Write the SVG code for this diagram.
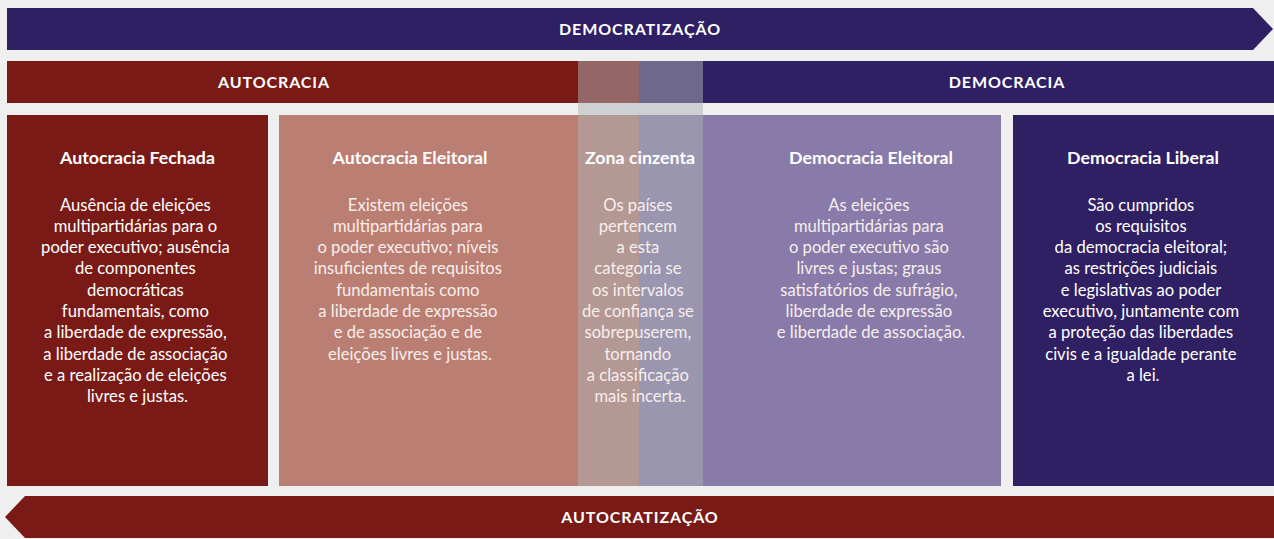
<svg xmlns="http://www.w3.org/2000/svg" width="1274" height="539" viewBox="0 0 1274 539">
<style>
.bg{fill:#efefef}
.red{fill:#7a1a16}
.pur{fill:#2f1f63}
.box2{fill:#bb7e72}
.box3{fill:#887ba9}
.hdr{font-family:Lato,"Liberation Sans",sans-serif;font-weight:700;font-size:16px;letter-spacing:0.9px;fill:#ffffff;text-anchor:middle}
.ttl{font-family:Lato,"Liberation Sans",sans-serif;font-weight:700;font-size:17.8px;fill:#ffffff;text-anchor:middle}
.body{font-family:Lato,"Liberation Sans",sans-serif;font-size:16.6px;fill:#ffffff;text-anchor:middle}
.soft{fill:#f7eeec}
</style>
<rect class="bg" x="0" y="0" width="1274" height="539"/>
<g id="democratizacao">
<polygon class="pur" points="7,8 1253,8 1273,29 1253,50 7,50"/>
<text class="hdr" x="640" y="35">DEMOCRATIZAÇÃO</text>
</g>
<g id="autocracia-bar">
<rect class="red" x="7" y="61" width="632" height="42"/>
<text class="hdr" x="274" y="88">AUTOCRACIA</text>
</g>
<g id="democracia-bar">
<rect class="pur" x="639" y="61" width="635" height="42"/>
<text class="hdr" x="1007" y="88">DEMOCRACIA</text>
</g>
<g id="autocracia-fechada">
<rect class="red" x="7" y="115" width="261" height="371"/>
<text class="ttl" x="137.5" y="164">Autocracia Fechada</text>
<text class="body" x="137.5" y="210.5">
<tspan x="137.5">Ausência de eleições</tspan>
<tspan x="137.5" dy="21.3">multipartidárias para o</tspan>
<tspan x="137.5" dy="21.3">poder executivo; ausência</tspan>
<tspan x="137.5" dy="21.3">de componentes</tspan>
<tspan x="137.5" dy="21.3">democráticas</tspan>
<tspan x="137.5" dy="21.3">fundamentais, como</tspan>
<tspan x="137.5" dy="21.3">a liberdade de expressão,</tspan>
<tspan x="137.5" dy="21.3">a liberdade de associação</tspan>
<tspan x="137.5" dy="21.3">e a realização de eleições</tspan>
<tspan x="137.5" dy="21.3">livres e justas.</tspan>
</text>
</g>
<g id="autocracia-eleitoral">
<rect class="box2" x="279" y="115" width="360" height="371"/>
<text class="ttl" x="410" y="164">Autocracia Eleitoral</text>
<text class="body soft" x="410" y="210.5">
<tspan x="410">Existem eleições</tspan>
<tspan x="410" dy="21.3">multipartidárias para</tspan>
<tspan x="410" dy="21.3">o poder executivo; níveis</tspan>
<tspan x="410" dy="21.3">insuficientes de requisitos</tspan>
<tspan x="410" dy="21.3">fundamentais como</tspan>
<tspan x="410" dy="21.3">a liberdade de expressão</tspan>
<tspan x="410" dy="21.3">e de associação e de</tspan>
<tspan x="410" dy="21.3">eleições livres e justas.</tspan>
</text>
</g>
<g id="democracia-eleitoral">
<rect class="box3" x="639" y="115" width="362" height="371"/>
<text class="ttl" x="871" y="164">Democracia Eleitoral</text>
<text class="body soft" x="871" y="210.5">
<tspan x="871">As eleições</tspan>
<tspan x="871" dy="21.3">multipartidárias para</tspan>
<tspan x="871" dy="21.3">o poder executivo são</tspan>
<tspan x="871" dy="21.3">livres e justas; graus</tspan>
<tspan x="871" dy="21.3">satisfatórios de sufrágio,</tspan>
<tspan x="871" dy="21.3">liberdade de expressão</tspan>
<tspan x="871" dy="21.3">e liberdade de associação.</tspan>
</text>
</g>
<g id="democracia-liberal">
<rect class="pur" x="1013" y="115" width="261" height="371"/>
<text class="ttl" x="1143" y="164">Democracia Liberal</text>
<text class="body" x="1143" y="210.5">
<tspan x="1143">São cumpridos</tspan>
<tspan x="1143" dy="21.3">os requisitos</tspan>
<tspan x="1143" dy="21.3">da democracia eleitoral;</tspan>
<tspan x="1143" dy="21.3">as restrições judiciais</tspan>
<tspan x="1143" dy="21.3">e legislativas ao poder</tspan>
<tspan x="1143" dy="21.3">executivo, juntamente com</tspan>
<tspan x="1143" dy="21.3">a proteção das liberdades</tspan>
<tspan x="1143" dy="21.3">civis e a igualdade perante</tspan>
<tspan x="1143" dy="21.3">a lei.</tspan>
</text>
</g>
<g id="zona-cinzenta">
<rect x="578" y="61" width="125" height="425" fill="#adb1b5" fill-opacity="0.5"/>
<text class="ttl" x="640" y="164">Zona cinzenta</text>
<text class="body soft" x="640" y="210.5">
<tspan x="640">Os países</tspan>
<tspan x="640" dy="21.3">pertencem</tspan>
<tspan x="640" dy="21.3">a esta</tspan>
<tspan x="640" dy="21.3">categoria se</tspan>
<tspan x="640" dy="21.3">os intervalos</tspan>
<tspan x="640" dy="21.3">de confiança se</tspan>
<tspan x="640" dy="21.3">sobrepuserem,</tspan>
<tspan x="640" dy="21.3">tornando</tspan>
<tspan x="640" dy="21.3">a classificação</tspan>
<tspan x="640" dy="21.3">mais incerta.</tspan>
</text>
</g>
<g id="autocratizacao">
<polygon class="red" points="25,496 1274,496 1274,538 25,538 5,517"/>
<text class="hdr" x="640" y="523">AUTOCRATIZAÇÃO</text>
</g>
<g id="connectors"></g>
</svg>
